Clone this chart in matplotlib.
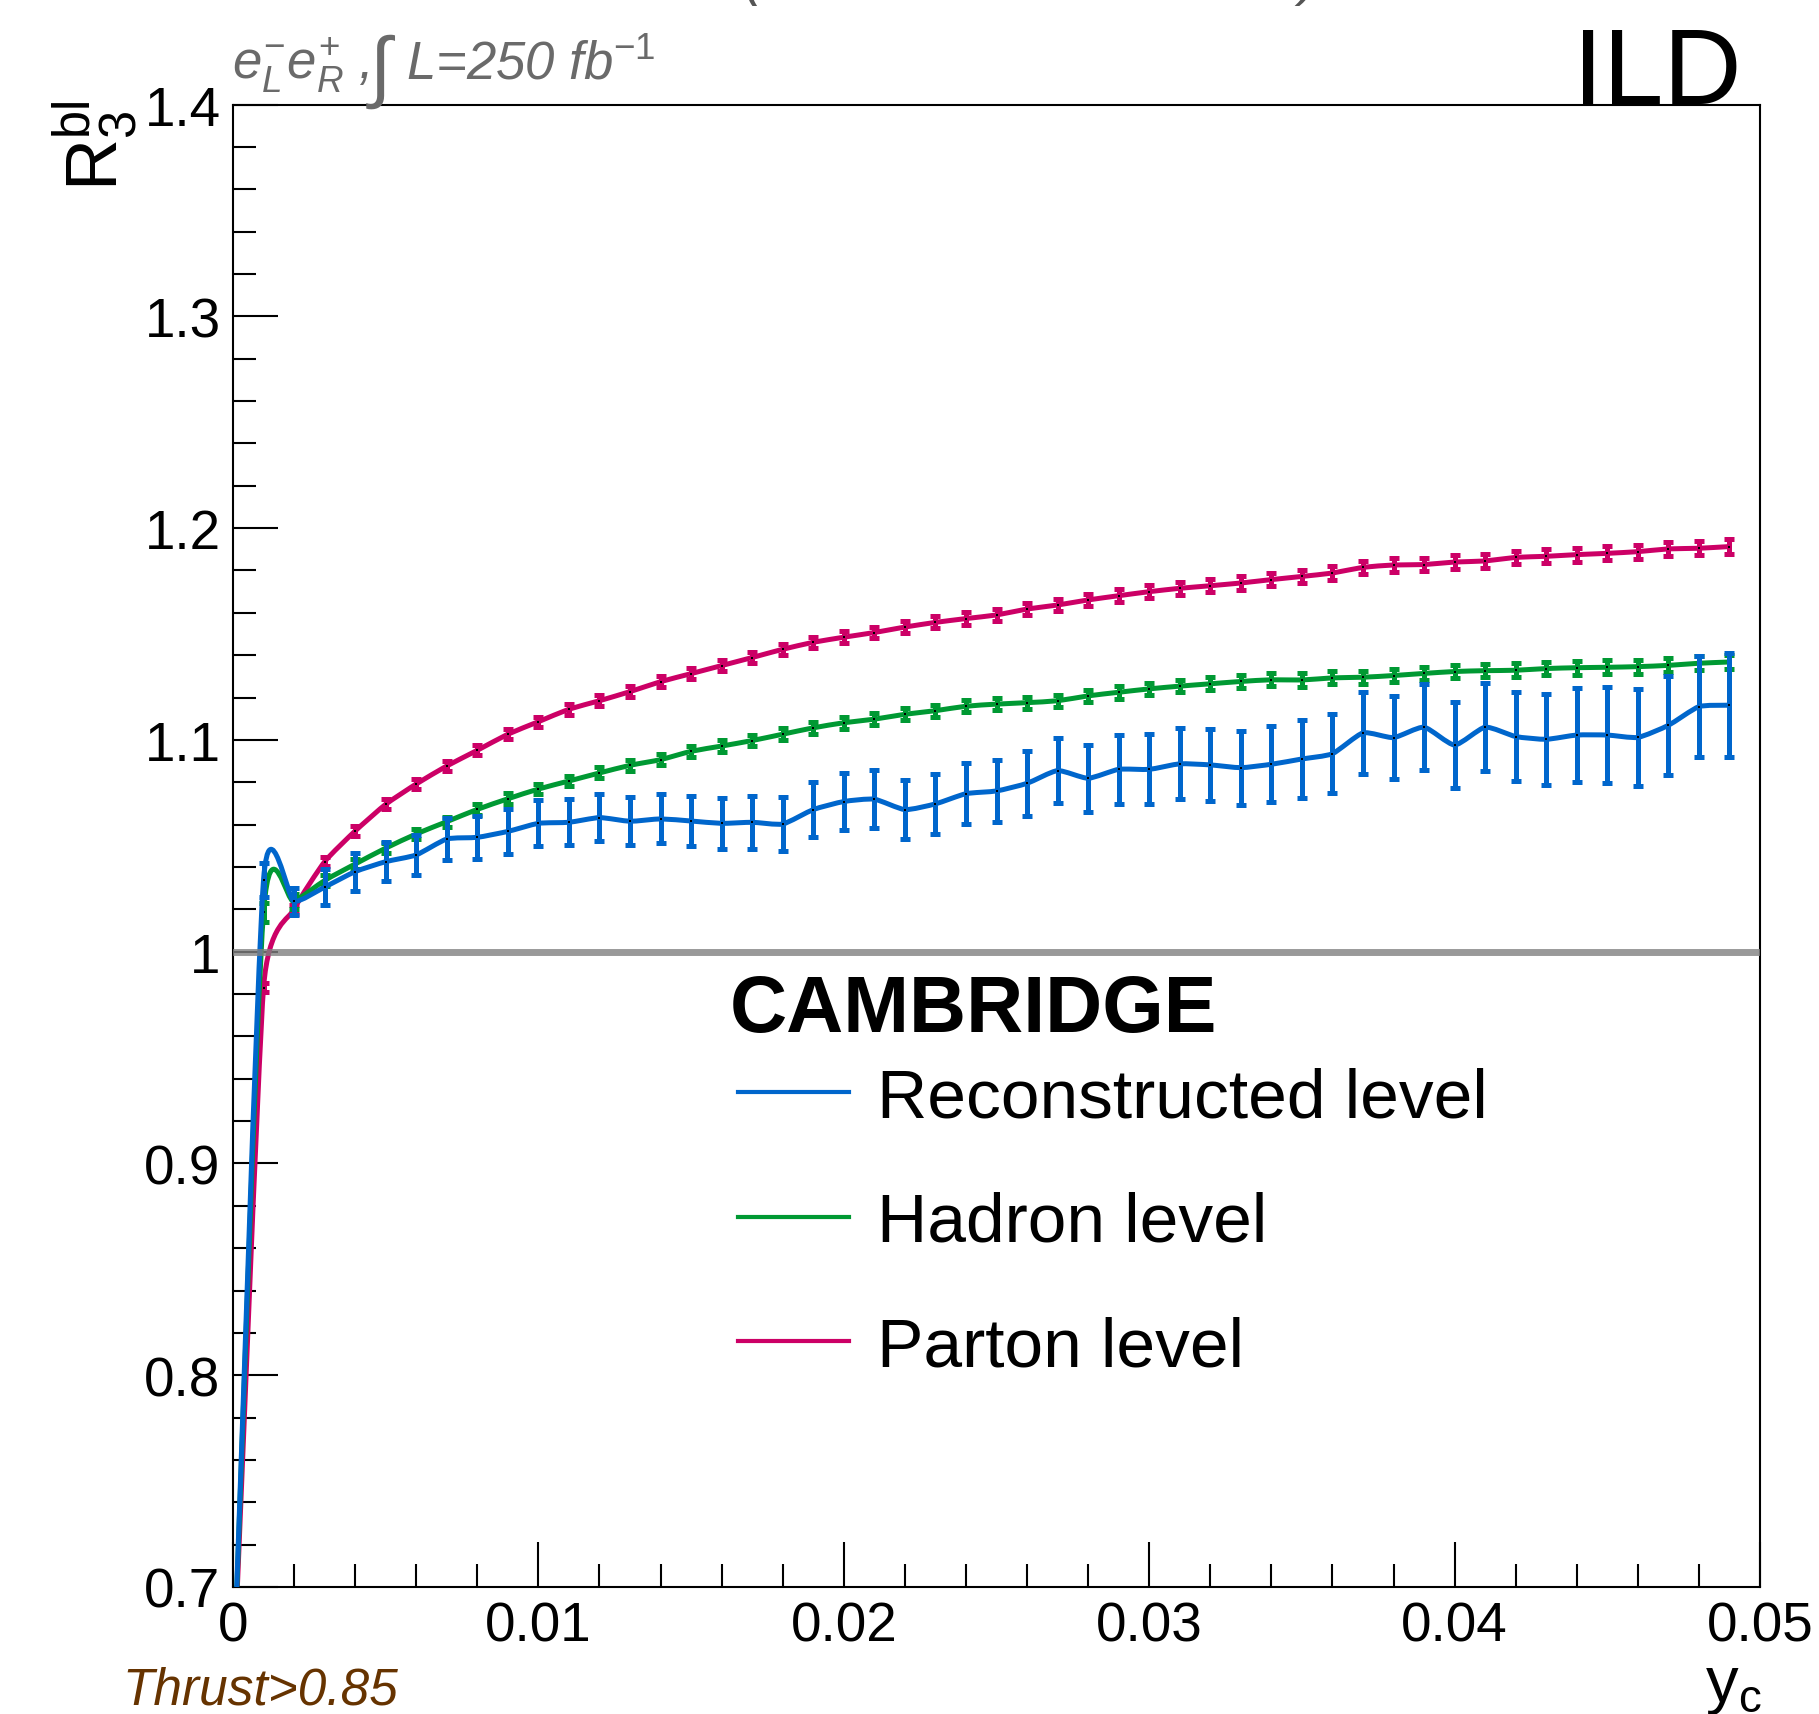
import numpy as np
import matplotlib
matplotlib.use("Agg")
import matplotlib.pyplot as plt
from matplotlib.path import Path
from matplotlib.patches import PathPatch
from matplotlib.lines import Line2D

plt.rcParams['font.family'] = ['Liberation Sans', 'DejaVu Sans']
plt.rcParams['mathtext.fontset'] = 'custom'
plt.rcParams['mathtext.rm'] = 'Liberation Sans'
plt.rcParams['mathtext.it'] = 'Liberation Sans:italic'
plt.rcParams['mathtext.bf'] = 'Liberation Sans:bold'

# ---------------- data ----------------
yc = [0.000, 0.001, 0.002, 0.003, 0.004, 0.005, 0.006, 0.007, 0.008, 0.009,
      0.010, 0.011, 0.012, 0.013, 0.014, 0.015, 0.016, 0.017, 0.018, 0.019,
      0.020, 0.021, 0.022, 0.023, 0.024, 0.025, 0.026, 0.027, 0.028, 0.029,
      0.030, 0.031, 0.032, 0.033, 0.034, 0.035, 0.036, 0.037, 0.038, 0.039,
      0.040, 0.041, 0.042, 0.043, 0.044, 0.045, 0.046, 0.047, 0.048, 0.049]

parton = [0.65, 0.983, 1.020, 1.0425, 1.057, 1.0696, 1.0792, 1.0877, 1.0951, 1.1027,
          1.1086, 1.1145, 1.1185, 1.1228, 1.1275, 1.1313, 1.1351, 1.1389, 1.1428, 1.1461,
          1.1485, 1.1507, 1.1533, 1.1555, 1.1573, 1.1590, 1.1618, 1.1637, 1.1661, 1.1681,
          1.1700, 1.1716, 1.1728, 1.1741, 1.1757, 1.1772, 1.1788, 1.1815, 1.1826, 1.1828,
          1.1840, 1.1845, 1.1862, 1.1867, 1.1875, 1.1881, 1.1889, 1.1902, 1.1905, 1.1913]
parton_err = [0.02, 0.0022, 0.0022, 0.0022, 0.0022, 0.0023, 0.0023, 0.0023, 0.0024, 0.0024,
              0.0024, 0.0025, 0.0025, 0.0025, 0.0026, 0.0026, 0.0026, 0.0027, 0.0027, 0.0027,
              0.0028, 0.0028, 0.0028, 0.0028, 0.0029, 0.0029, 0.0029, 0.0029, 0.0030, 0.0030,
              0.0030, 0.0030, 0.0030, 0.0031, 0.0031, 0.0031, 0.0031, 0.0031, 0.0032, 0.0032,
              0.0032, 0.0032, 0.0032, 0.0033, 0.0033, 0.0033, 0.0033, 0.0034, 0.0034, 0.0035]

hadron = [0.65, 1.0186, 1.0237, 1.0336, 1.0414, 1.0489, 1.0556, 1.0614, 1.0672, 1.0722,
          1.0768, 1.0806, 1.0844, 1.0880, 1.0907, 1.0946, 1.0971, 1.0997, 1.1027, 1.1057,
          1.1081, 1.1098, 1.1121, 1.1138, 1.1159, 1.1169, 1.1176, 1.1185, 1.1208, 1.1225,
          1.1241, 1.1254, 1.1265, 1.1276, 1.1284, 1.1283, 1.1293, 1.1296, 1.1304, 1.1314,
          1.1323, 1.1327, 1.1329, 1.1337, 1.1341, 1.1343, 1.1346, 1.1352, 1.1362, 1.1368]
hadron_err = [0.02, 0.0045, 0.0035, 0.0026, 0.0024, 0.0024, 0.0024, 0.0024, 0.0025, 0.0025,
              0.0025, 0.0025, 0.0026, 0.0026, 0.0026, 0.0026, 0.0027, 0.0027, 0.0027, 0.0027,
              0.0028, 0.0028, 0.0028, 0.0028, 0.0029, 0.0029, 0.0029, 0.0029, 0.0029, 0.0030,
              0.0030, 0.0030, 0.0030, 0.0030, 0.0031, 0.0031, 0.0031, 0.0031, 0.0031, 0.0032,
              0.0032, 0.0032, 0.0032, 0.0032, 0.0033, 0.0033, 0.0033, 0.0033, 0.0034, 0.0034]

reco = [0.65, 1.034, 1.0237, 1.0305, 1.0378, 1.0425, 1.0457, 1.0532, 1.0540, 1.0568,
        1.0606, 1.0611, 1.0633, 1.0616, 1.0627, 1.0617, 1.0606, 1.0611, 1.0603, 1.0671,
        1.0709, 1.0720, 1.0671, 1.0698, 1.0746, 1.0759, 1.0795, 1.0855, 1.0819, 1.0861,
        1.0861, 1.0887, 1.0882, 1.0869, 1.0885, 1.0910, 1.0935, 1.1033, 1.1011, 1.1060,
        1.0976, 1.1060, 1.1016, 1.1003, 1.1023, 1.1023, 1.1012, 1.1069, 1.1157, 1.1164]
reco_err = [0.03, 0.0080, 0.0065, 0.0085, 0.0090, 0.0092, 0.0096, 0.0097, 0.0100, 0.0106,
            0.0108, 0.0108, 0.0111, 0.0114, 0.0116, 0.0119, 0.0121, 0.0124, 0.0126, 0.0129,
            0.0133, 0.0136, 0.0138, 0.0141, 0.0145, 0.0148, 0.0152, 0.0155, 0.0159, 0.0163,
            0.0165, 0.0168, 0.0171, 0.0175, 0.0179, 0.0183, 0.0186, 0.0193, 0.0196, 0.0202,
            0.0202, 0.0209, 0.0210, 0.0215, 0.0220, 0.0226, 0.0229, 0.0234, 0.0239, 0.0247]

series_labels = ['Reconstructed level', 'Hadron level', 'Parton level']
legend_title = 'CAMBRIDGE'
xtick_vals = [0.0, 0.01, 0.02, 0.03, 0.04, 0.05]
xtick_labels = ['0', '0.01', '0.02', '0.03', '0.04', '0.05']
ytick_vals = [0.7, 0.8, 0.9, 1.0, 1.1, 1.2, 1.3, 1.4]
ytick_labels = ['0.7', '0.8', '0.9', '1', '1.1', '1.2', '1.3', '1.4']

C_RECO = '#0066cc'
C_HAD = '#009933'
C_PART = '#cc0066'

# ---------------- figure ----------------
W, H = 1819, 1715
fig = plt.figure(figsize=(W / 100, H / 100), dpi=100)
ax = fig.add_axes([233 / W, 1 - 1588 / H, (1760 - 233) / W, (1588 - 105.6) / H])
ax.set_xlim(0, 0.05)
ax.set_ylim(0.7, 1.4)


def smooth_path(xs, ys, s=0.5):
    """Smooth (cardinal spline) curve through the data points, like ROOT's 'C' option."""
    P = np.column_stack([xs, ys]).astype(float)
    n = len(P)
    verts = [P[0]]
    codes = [Path.MOVETO]
    for i in range(n - 1):
        p0 = P[i - 1] if i > 0 else 2 * P[0] - P[1]
        p1, p2 = P[i], P[i + 1]
        p3 = P[i + 2] if i + 2 < n else 2 * P[-1] - P[-2]
        c1 = p1 + s * (p2 - p0) / 6.0
        c2 = p2 - s * (p3 - p1) / 6.0
        verts += [c1, c2, p2]
        codes += [Path.CURVE4] * 3
    return Path(verts, codes)


LW = 3.6
z = 2
for ys, errs, col, s in [(parton, parton_err, C_PART, 0.5),
                         (hadron, hadron_err, C_HAD, 0.7),
                         (reco, reco_err, C_RECO, 0.6)]:
    ax.add_patch(PathPatch(smooth_path(yc, ys, s), fill=False, edgecolor=col, lw=LW,
                           joinstyle='round', capstyle='butt', zorder=z))
    ax.errorbar(yc[1:], ys[1:], yerr=errs[1:], fmt='none', ecolor=col, elinewidth=LW,
                capsize=3.8, capthick=LW, zorder=z + 0.1)
    ax.plot(yc[1:], ys[1:], 's', color='black', ms=2.0, mew=0, zorder=z + 0.2)
    z += 1

ax.axhline(1.0, color='#808080', alpha=0.8, lw=5.0, zorder=10)

# axes styling
for sp in ax.spines.values():
    sp.set_linewidth(1.5)
ax.set_xticks(xtick_vals)
ax.set_xticklabels(xtick_labels)
ax.set_yticks(ytick_vals)
ax.set_yticklabels(ytick_labels)
ax.set_xticks(np.arange(0, 0.0501, 0.002), minor=True)
ax.set_yticks(np.arange(0.7, 1.4001, 0.02), minor=True)
ax.tick_params(which='both', direction='in', top=False, right=False, width=1.5, colors='black')
ax.tick_params(which='major', length=32.5, labelsize=39.5)
ax.tick_params(which='minor', length=16.5)
ax.tick_params(axis='x', which='major', pad=10)
ax.tick_params(axis='y', which='major', pad=9)

# legend
handles = [Line2D([], [], color=C_RECO, lw=3.0),
           Line2D([], [], color=C_HAD, lw=3.0),
           Line2D([], [], color=C_PART, lw=3.0)]
leg = ax.legend(handles, series_labels, loc='center left',
                bbox_to_anchor=(738 / W, 1 - 1224 / H), bbox_transform=fig.transFigure,
                frameon=False, fontsize=50, handlelength=1.6, handletextpad=0.4,
                labelspacing=0.87, borderpad=0, borderaxespad=0)
fig.text(730 / W, 1 - 1032 / H, legend_title, fontsize=57, fontweight='bold',
         ha='left', va='baseline')

# texts
fig.text(232 / W, 1 - 79 / H, r'$e^{-}_{L}e^{+}_{R}$ ,', color='#6a6a6a', fontsize=38,
         style='italic', va='baseline', ha='left')
fig.text(370 / W, 1 - 92 / H, '\u222b', color='#6a6a6a', fontsize=56,
         style='italic', va='baseline', ha='left')
fig.text(406 / W, 1 - 79 / H, r'L=250 fb$^{-1}$', color='#6a6a6a', fontsize=38,
         style='italic', va='baseline', ha='left')
fig.text(1742 / W, 1 - 104 / H, 'ILD', fontsize=78, ha='right', va='baseline')
fig.text(122 / W, 1 - 1705 / H, 'Thrust>0.85', fontsize=37, style='italic',
         color='#663300', ha='left', va='baseline')
fig.text(96 / W, 1 - 100 / H, r'$\mathregular{R_{3}^{bl}}$', fontsize=52,
         rotation=90, ha='center', va='top')
fig.text(1762 / W, 1 - 1702 / H, r'$\mathregular{y_{c}}$', fontsize=47,
         ha='right', va='baseline')
fig.text(753 / W, 1 + 6 / H, '(', fontsize=40, style='italic', color='#555555',
         ha='center', va='baseline')
fig.text(1309 / W, 1 + 6 / H, ')', fontsize=40, style='italic', color='#555555',
         ha='center', va='baseline')

fig.savefig('out.png', dpi=100)
